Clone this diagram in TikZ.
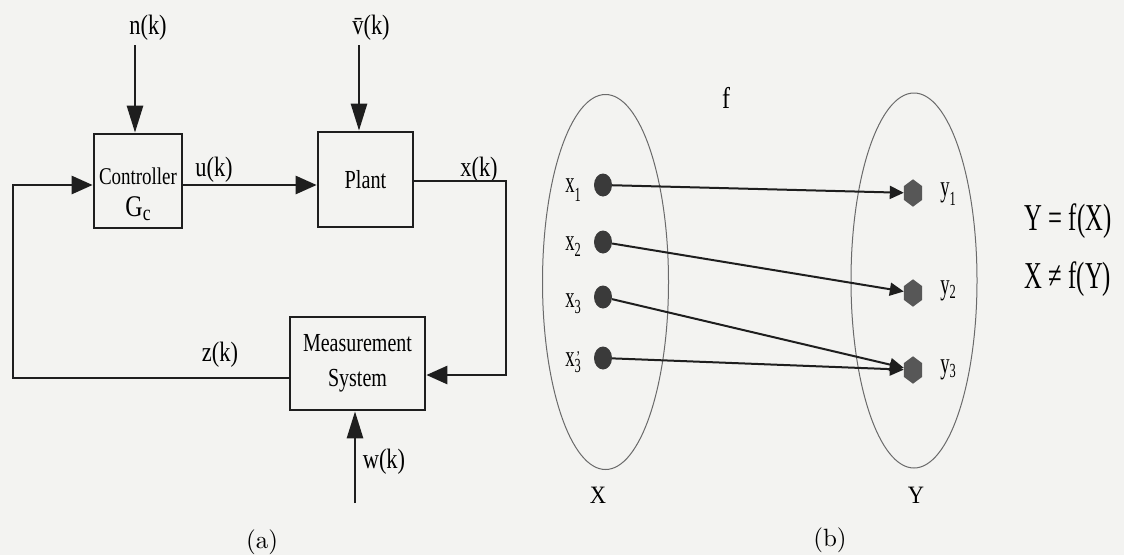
\documentclass[tikz,border=0pt]{standalone}
\usepackage{fontspec}
\setmainfont{Liberation Serif}
\newfontfamily\lmr{lmroman10-regular}[Extension=.otf]
\usepackage{graphicx}
\usetikzlibrary{arrows.meta,shapes.geometric,calc}
\definecolor{paper}{HTML}{F3F3F1}
\definecolor{ink}{HTML}{1E1E1E}
\definecolor{dotc}{HTML}{3A3A3A}
\definecolor{hexc}{HTML}{575757}
\definecolor{setc}{HTML}{6A6A6A}
\newcommand\cx[2]{\scalebox{#1}[1]{#2}}
\newcommand\fs[1]{\fontsize{#1}{#1}\selectfont}
\begin{document}
\begin{tikzpicture}[x=1pt,y=-1pt,
  blk/.style={line width=2.7pt, draw=ink},
  box/.style={blk, rectangle, inner sep=0pt},
  harr/.style={-{Triangle[length=21pt,width=18pt]}},
  varr/.style={-{Triangle[length=27pt,width=16pt]}},
  farr/.style={line width=2pt, draw=ink, -{Triangle[length=14pt,width=13pt]}},
  lbl/.style={inner sep=0pt, font=\fs{28}},
  sml/.style={inner sep=0pt, font=\fs{30}},
  dotn/.style={ellipse, fill=dotc, minimum width=18pt, minimum height=23pt, inner sep=0pt},
  hexn/.style={rectangle, minimum width=18pt, minimum height=27pt, inner sep=0pt},
  setn/.style={ellipse, draw=setc, line width=1pt, inner sep=0pt, minimum width=126pt, minimum height=375pt}
]
\fill[paper] (0,0) rectangle (1124,555);
\useasboundingbox (0,0) rectangle (1124,555);

% ---------- (a) block diagram ----------
\node[box, minimum width=88pt, minimum height=94pt] (ctrl) at (138,181) {};
\node[inner sep=0pt, font=\fs{24}] (ctrlt) at (138,176) {\cx{0.79}{Controller}};
\node[inner sep=0pt, font=\fs{30}] (ctrlg) at (138,209) {\cx{0.8}{G\raisebox{-4pt}{\fs{22}c}}};
\node[box, minimum width=95pt, minimum height=95pt, font=\fs{26}] (plant) at (365.5,179.5) {\cx{0.78}{Plant}};
\node[box, minimum width=135pt, minimum height=93pt, font=\fontsize{26}{35}\selectfont, align=center] (meas) at (357.5,363.5) {\cx{0.77}{Measurement}\\\cx{0.77}{System}};

\node[lbl] (nk) at (148,28) {\cx{0.8}{n(k)}};
\node[lbl] (vk) at (371,28) {\cx{0.8}{\=v(k)}};
\node[lbl] (uk) at (214,170) {\cx{0.8}{u(k)}};
\node[lbl] (xk) at (479,170) {\cx{0.8}{x(k)}};
\node[lbl] (zk) at (220,355) {\cx{0.8}{z(k)}};
\node[lbl] (wk) at (384,462) {\cx{0.8}{w(k)}};

\coordinate (nstart) at (135,45);
\coordinate (vstart) at (359,45);
\coordinate (uy) at (0,185);
\coordinate (xc) at (506,181);
\coordinate (mc) at (506,375);
\coordinate (zc) at (13,378);
\coordinate (fc) at (13,185);
\coordinate (wstart) at (355,503);

\draw[blk,varr] (nstart) -- (nstart |- ctrl.north);
\draw[blk,varr] (vstart) -- (vstart |- plant.north);
\draw[blk,harr] (ctrl.east |- uy) -- (plant.west |- uy);
\draw[blk,harr] (plant.east |- xc) -- (xc) -- (mc) -- (meas.east |- mc);
\draw[blk,harr] (meas.west |- zc) -- (zc) -- (fc) -- (ctrl.west |- fc);
\draw[blk,varr] (wstart) -- (wstart |- meas.south);

\node[inner sep=0pt, font=\lmr\fs{25}] (capa) at (262,542) {(a)};

% ---------- (b) mapping ----------
\node[setn] (setX) at (605.5,282) {};
\node[setn] (setY) at (914,280.5) {};
\node[sml] (fl) at (726,98) {\cx{0.8}{f}};

\node[dotn] (x1) at (603,185) {};
\node[dotn] (x2) at (603,242) {};
\node[dotn] (x3) at (603,297) {};
\node[dotn] (x3p) at (603,358) {};
\node[hexn] (y1) at (913,193) {};
\node[hexn] (y2) at (913,293) {};
\node[hexn] (y3) at (913,370) {};
\foreach \h in {y1,y2,y3}
  \fill[hexc] (\h.north) -- ($(\h.north east)!.25!(\h.south east)$) -- ($(\h.north east)!.75!(\h.south east)$) -- (\h.south) -- ($(\h.north west)!.75!(\h.south west)$) -- ($(\h.north west)!.25!(\h.south west)$) -- cycle;

\draw[farr] (x1) -- (y1);
\draw[farr] (x2) -- (y2);
\draw[farr] (x3) -- (y3);
\draw[farr] (x3p) -- (y3);

\node[sml] (lx1) at (573,190) {\cx{0.62}{x\raisebox{-9pt}{\fs{20}1}}};
\node[sml] (lx2) at (573,247) {\cx{0.62}{x\raisebox{-6pt}{\fs{20}2}}};
\node[sml] (lx3) at (573,304) {\cx{0.62}{x\raisebox{-6pt}{\fs{20}3}}};
\node[sml] (lx3p) at (573,362) {\cx{0.62}{x\raisebox{-6pt}{\fs{20}\rlap{\kern3pt\raisebox{9pt}{\fs{18}'}}3}}};
\node[sml] (ly1) at (948,194) {\cx{0.62}{y\raisebox{-9pt}{\fs{20}1}}};
\node[sml] (ly2) at (948,291) {\cx{0.62}{y\raisebox{-4pt}{\fs{20}2}}};
\node[sml] (ly3) at (948,370) {\cx{0.62}{y\raisebox{-4pt}{\fs{20}3}}};

\node[inner sep=0pt, font=\fs{25}] (lX) at (598,495) {\cx{0.9}{X}};
\node[inner sep=0pt, font=\fs{25}] (lY) at (916,495) {\cx{0.9}{Y}};
\node[inner sep=0pt, font=\fs{38}, anchor=base] (eq1) at (1068,230) {\cx{0.65}{Y = f(X)}};
\node[inner sep=0pt, font=\fs{38}, anchor=base] (eq2) at (1068,288) {\cx{0.65}{X ≠ f(Y)}};
\node[inner sep=0pt, font=\lmr\fs{25}] (capb) at (830,540) {(b)};
\end{tikzpicture}
\end{document}
